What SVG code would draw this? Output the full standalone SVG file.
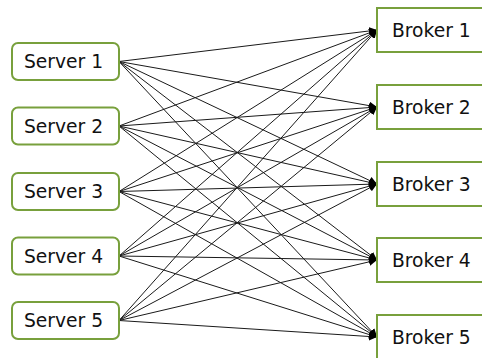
<svg xmlns="http://www.w3.org/2000/svg" width="482" height="358" viewBox="0 0 482 358">
  <style>
    .box { fill: #ffffff; stroke: #78a03c; stroke-width: 2; }
    .lbl { font-family: "DejaVu Sans", "Liberation Sans", sans-serif; font-size: 18.7px; fill: #111111; dominant-baseline: central; }
    .edge { stroke: #1a1a1a; stroke-width: 1; fill: none; marker-end: url(#arrow); }
  </style>
  <defs>
    <marker id="arrow" viewBox="0 0 10 10" refX="10" refY="5" markerWidth="8" markerHeight="8" markerUnits="userSpaceOnUse" orient="auto">
      <path d="M0,0 L10,5 L0,10 z" fill="#000000"/>
    </marker>
  </defs>
  <rect width="482" height="358" fill="#ffffff"/>

  <!-- every server sends to every broker -->
  <g id="connectors">
    <line class="edge" x1="119" y1="61.5" x2="377" y2="30"/>
    <line class="edge" x1="119" y1="61.5" x2="377" y2="107"/>
    <line class="edge" x1="119" y1="61.5" x2="377" y2="184"/>
    <line class="edge" x1="119" y1="61.5" x2="377" y2="260"/>
    <line class="edge" x1="119" y1="61.5" x2="377" y2="337"/>
    <line class="edge" x1="119" y1="126" x2="377" y2="30"/>
    <line class="edge" x1="119" y1="126" x2="377" y2="107"/>
    <line class="edge" x1="119" y1="126" x2="377" y2="184"/>
    <line class="edge" x1="119" y1="126" x2="377" y2="260"/>
    <line class="edge" x1="119" y1="126" x2="377" y2="337"/>
    <line class="edge" x1="119" y1="191.5" x2="377" y2="30"/>
    <line class="edge" x1="119" y1="191.5" x2="377" y2="107"/>
    <line class="edge" x1="119" y1="191.5" x2="377" y2="184"/>
    <line class="edge" x1="119" y1="191.5" x2="377" y2="260"/>
    <line class="edge" x1="119" y1="191.5" x2="377" y2="337"/>
    <line class="edge" x1="119" y1="256" x2="377" y2="30"/>
    <line class="edge" x1="119" y1="256" x2="377" y2="107"/>
    <line class="edge" x1="119" y1="256" x2="377" y2="184"/>
    <line class="edge" x1="119" y1="256" x2="377" y2="260"/>
    <line class="edge" x1="119" y1="256" x2="377" y2="337"/>
    <line class="edge" x1="119" y1="320.5" x2="377" y2="30"/>
    <line class="edge" x1="119" y1="320.5" x2="377" y2="107"/>
    <line class="edge" x1="119" y1="320.5" x2="377" y2="184"/>
    <line class="edge" x1="119" y1="320.5" x2="377" y2="260"/>
    <line class="edge" x1="119" y1="320.5" x2="377" y2="337"/>
  </g>

  <g id="server1"><rect class="box" x="12" y="43" width="107" height="37" rx="6"/><text class="lbl" x="24" y="61.5">Server 1</text></g>
  <g id="server2"><rect class="box" x="12" y="107.5" width="107" height="37" rx="6"/><text class="lbl" x="24" y="126">Server 2</text></g>
  <g id="server3"><rect class="box" x="12" y="173" width="107" height="37" rx="6"/><text class="lbl" x="24" y="191.5">Server 3</text></g>
  <g id="server4"><rect class="box" x="12" y="237.5" width="107" height="37" rx="6"/><text class="lbl" x="24" y="256">Server 4</text></g>
  <g id="server5"><rect class="box" x="12" y="302" width="107" height="37" rx="6"/><text class="lbl" x="24" y="320.5">Server 5</text></g>

  <g id="broker1"><rect class="box" x="377" y="8" width="120" height="44"/><text class="lbl" x="392" y="30">Broker 1</text></g>
  <g id="broker2"><rect class="box" x="377" y="85" width="120" height="44"/><text class="lbl" x="392" y="107">Broker 2</text></g>
  <g id="broker3"><rect class="box" x="377" y="162" width="120" height="44"/><text class="lbl" x="392" y="184">Broker 3</text></g>
  <g id="broker4"><rect class="box" x="377" y="238" width="120" height="44"/><text class="lbl" x="392" y="260">Broker 4</text></g>
  <g id="broker5"><rect class="box" x="377" y="315" width="120" height="44"/><text class="lbl" x="392" y="337">Broker 5</text></g>
</svg>
